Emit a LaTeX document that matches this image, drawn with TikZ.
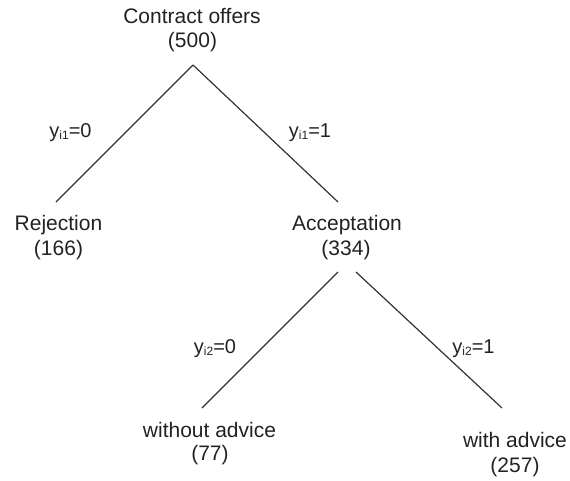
\documentclass[tikz,border=0pt]{standalone}
\usepackage{fontspec}
\setmainfont{Liberation Sans}
\usetikzlibrary{calc}
\definecolor{ink}{HTML}{222222}
\definecolor{edge}{HTML}{333333}
\newcommand{\ysub}[1]{y\raisebox{-2.5pt}{\fontsize{12}{12}\selectfont #1}}
\begin{document}
\begin{tikzpicture}[x=1pt,y=1pt,
  lbl/.style={anchor=base,inner sep=0pt,text=ink,font=\fontsize{21}{24}\selectfont},
  brl/.style={anchor=base,inner sep=0pt,text=ink,font=\fontsize{20}{24}\selectfont},
  branch/.style={draw=edge,line width=1.2pt}]
\useasboundingbox (0,0) rectangle (570,-480);
% entities
\node[lbl] (top)  at (192,-23) {Contract offers};
\node[lbl] (topn) at (192.5,-47) {(500)};
\node[lbl] (rej)  at (58.5,-230) {Rejection};
\node[lbl] (rejn) at (58.5,-255) {(166)};
\node[lbl] (acc)  at (347,-230) {Acceptation};
\node[lbl] (accn) at (346,-255) {(334)};
\node[lbl] (wo)   at (209.5,-437) {without advice};
\node[lbl] (won)  at (210,-460) {(77)};
\node[lbl] (wi)   at (515,-447) {with advice};
\node[lbl] (win)  at (515,-472) {(257)};
% branches
\draw[branch] ($(topn.base)+(0.5,-18)$) -- ($(rej.base)+(-2.5,28)$);
\draw[branch] ($(topn.base)+(0.5,-18)$) -- ($(acc.base)+(-9,28)$);
\draw[branch] ($(accn.base)+(-8,-17)$) -- ($(wo.base)+(-7.5,29)$);
\draw[branch] ($(accn.base)+(10,-17)$) -- ($(wi.base)+(-13,39)$);
% branch labels
\node[brl] (b1) at (70.5,-137) {\ysub{i1}=0};
\node[brl] (b2) at (310,-137) {\ysub{i1}=1};
\node[brl] (b3) at (215,-353) {\ysub{i2}=0};
\node[brl] (b4) at (473.5,-353) {\ysub{i2}=1};
\end{tikzpicture}
\end{document}
